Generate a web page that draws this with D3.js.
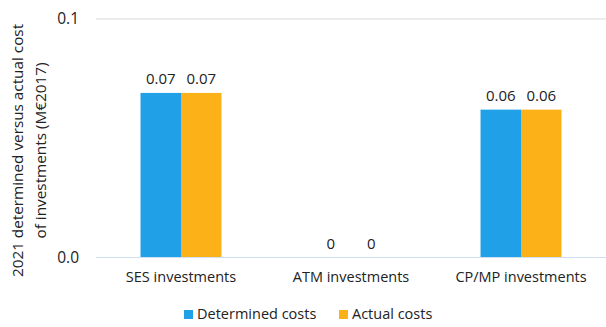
<!DOCTYPE html>
<html><head><meta charset="utf-8">
<script src="https://cdn.jsdelivr.net/npm/d3@7"></script>
<style>body{margin:0;background:#fff}svg{display:block}text{font-family:"Open Sans",sans-serif;fill:#222}</style>
</head><body><svg width="606" height="327"></svg>
<script>
const categories = ["SES investments","ATM investments","CP/MP investments"];
const seriesNames = ["Determined costs","Actual costs"];
const determined = [0.069, 0, 0.062];
const actual = [0.069, 0, 0.062];
const valueLabels = [["0.07","0","0.06"],["0.07","0","0.06"]];
const yTicks = [0, 0.1];
const colors = ["#20a0e6","#fdb119"];

const svg = d3.select("svg");
const m = {l:96, r:606, t:19, b:257.5};
const x = d3.scaleBand().domain(categories).range([m.l, m.r]).paddingInner(0).paddingOuter(0);
const gap = 1.1;
const groupW = x.bandwidth()/(1+gap);
const x1 = d3.scaleBand().domain(seriesNames).range([0, groupW]);
const y = d3.scaleLinear().domain([0,0.1]).range([m.b, m.t]);
const series = [determined, actual];

// gridlines
svg.append("g").selectAll("line").data(yTicks.filter(d=>d>0)).join("line")
  .attr("x1",m.l).attr("x2",m.r).attr("y1",d=>y(d)).attr("y2",d=>y(d))
  .attr("stroke","#d9d9d9").attr("stroke-width",1);

// bars
seriesNames.forEach((s,si)=>{
  svg.append("g").selectAll("rect").data(categories).join("rect")
    .attr("x",c=>x(c)+(x.bandwidth()-groupW)/2+x1(s))
    .attr("width",x1.bandwidth())
    .attr("y",(c,i)=>y(series[si][i]))
    .attr("height",(c,i)=>y(0)-y(series[si][i]))
    .attr("fill",colors[si]);
  svg.append("g").selectAll("text").data(categories).join("text")
    .attr("x",c=>x(c)+(x.bandwidth()-groupW)/2+x1(s)+x1.bandwidth()/2)
    .attr("y",(c,i)=>y(series[si][i])-9)
    .attr("text-anchor","middle").attr("font-size",15)
    .text((c,i)=>valueLabels[si][i]);
});

// baseline
svg.append("line").attr("x1",m.l).attr("x2",m.r).attr("y1",y(0)).attr("y2",y(0))
  .attr("stroke","#cfe0f3").attr("stroke-width",1);

// y axis
const yAxis = d3.axisLeft(y).tickValues(yTicks).tickFormat(d3.format(".1f")).tickSize(0).tickPadding(17);
const ya = svg.append("g").attr("transform",`translate(${m.l},0)`).call(yAxis);
ya.select(".domain").remove();
ya.selectAll("text").attr("font-size",15.5).attr("font-family","Open Sans").attr("fill","#222");

// x axis
const xAxis = d3.axisBottom(x).tickSize(0).tickPadding(14);
const xa = svg.append("g").attr("transform",`translate(0,${m.b})`).call(xAxis);
xa.select(".domain").remove();
xa.selectAll("text").attr("font-size",14.5).attr("font-family","Open Sans").attr("fill","#222");

// y title
const yt = svg.append("text").attr("transform",`translate(23,150.5) rotate(-90)`).attr("text-anchor","middle").attr("font-size",15.3);
yt.append("tspan").attr("x",0).attr("dy",0).text("2021 determined versus actual cost");
yt.append("tspan").attr("x",0).attr("dy",23).text("of investments (M€2017)");

// legend
const lx = [184, 339];
seriesNames.forEach((s,i)=>{
  svg.append("rect").attr("x",lx[i]).attr("y",310).attr("width",9).attr("height",9).attr("fill",colors[i]);
  svg.append("text").attr("x",lx[i]+13).attr("y",319).attr("font-size",14.5).text(s);
});
</script></body></html>
